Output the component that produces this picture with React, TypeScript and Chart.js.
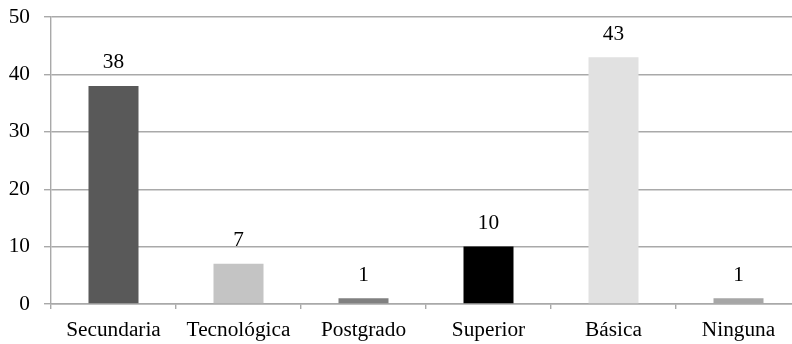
import React, { useEffect, useRef } from "react";
import { Chart, registerables } from "chart.js";

Chart.register(...registerables);

const categories = ["Secundaria", "Tecnológica", "Postgrado", "Superior", "Básica", "Ninguna"];
const values = [38, 7, 1, 10, 43, 1];
const barColors = ["#595959", "#c4c4c4", "#808080", "#000000", "#e1e1e1", "#a6a6a6"];
const yTicks = [0, 10, 20, 30, 40, 50];

const FONT_FAMILY = '"Liberation Serif", "Times New Roman", serif';
const FONT_SIZE = 21.3;
const GRID = "#a9a9a9";
const GRID_W = 1.4;

const labelPlugin = {
  id: "valueLabels",
  afterDatasetsDraw(chart: any) {
    const ctx = chart.ctx;
    const meta = chart.getDatasetMeta(0);
    ctx.save();
    ctx.font = `${FONT_SIZE}px ${FONT_FAMILY}`;
    ctx.fillStyle = "#000000";
    ctx.textAlign = "center";
    ctx.textBaseline = "alphabetic";
    meta.data.forEach((bar: any, i: number) => {
      ctx.fillText(String(values[i]), bar.x, bar.y - 17.5);
    });
    ctx.restore();
  },
};

export default function App() {
  const ref = useRef<HTMLCanvasElement | null>(null);
  useEffect(() => {
    if (!ref.current) return;
    const chart = new Chart(ref.current, {
      type: "bar",
      data: {
        labels: categories,
        datasets: [
          {
            data: values,
            backgroundColor: barColors,
            borderWidth: 0,
            categoryPercentage: 1,
            barPercentage: 0.4,
          },
        ],
      },
      plugins: [labelPlugin],
      options: {
        responsive: false,
        animation: false,
        layout: { padding: { top: 17, bottom: 0, left: 0, right: 19 } },
        plugins: { legend: { display: false }, tooltip: { enabled: false } },
        scales: {
          x: {
            offset: true,
            afterFit: (scale: any) => {
              scale.height = 40;
              scale.paddingLeft = 0;
              scale.paddingRight = 0;
            },
            grid: {
              offset: true,
              drawOnChartArea: false,
              drawTicks: true,
              tickLength: 5,
              color: GRID,
              lineWidth: GRID_W,
            },
            border: { display: true, color: GRID, width: GRID_W },
            ticks: {
              color: "#000000",
              font: { family: FONT_FAMILY, size: FONT_SIZE },
              padding: 9,
              maxRotation: 0,
              autoSkip: false,
            },
          },
          y: {
            min: 0,
            max: 50,
            afterBuildTicks: (scale: any) => {
              scale.ticks = yTicks.map((v) => ({ value: v }));
            },
            afterFit: (scale: any) => {
              scale.width = 51;
              scale.paddingTop = 0;
              scale.paddingBottom = 0;
            },
            grid: { color: GRID, lineWidth: GRID_W, tickLength: 7, drawTicks: true },
            border: { display: true, color: GRID, width: GRID_W },
            ticks: {
              color: "#000000",
              font: { family: FONT_FAMILY, size: FONT_SIZE },
              padding: 14,
            },
          },
        },
      },
    });
    return () => chart.destroy();
  }, []);
  return (
    <div style={{ position: "fixed", left: 0, top: 0, width: 792, height: 344, overflow: "hidden", background: "#fff" }}>
      <canvas ref={ref} width={820} height={344} style={{ display: "block" }} />
    </div>
  );
}
